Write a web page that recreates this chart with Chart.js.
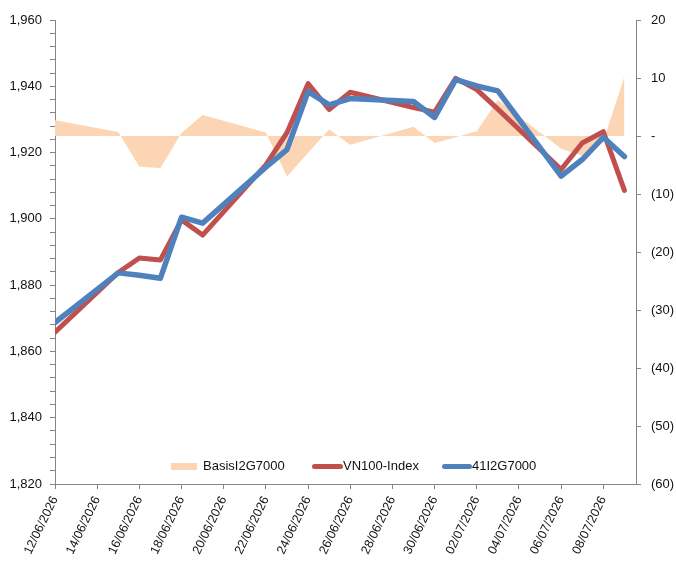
<!DOCTYPE html>
<html>
<head>
<meta charset="utf-8">
<script src="https://cdn.jsdelivr.net/npm/chart.js@4.4.1/dist/chart.umd.min.js"></script>
<style>
  html, body { margin: 0; padding: 0; background: #fff; }
  #wrap { position: relative; width: 676px; height: 566px; }
  #legend { position: absolute; left: 0; top: 458px; width: 676px; height: 16px;
            font: 13px "Liberation Sans", Arial, sans-serif; color: #111; }
  #legend .item { position: absolute; top: 0; height: 16px; line-height: 16px; white-space: nowrap; }
  #legend .mark { display: inline-block; vertical-align: middle; }
</style>
</head>
<body>
<div id="wrap">
  <canvas id="chart" width="676" height="566"></canvas>
  <div id="legend"></div>
</div>
<script>
"use strict";
// trading days shown on the chart
const dates = [
    '12/06/2026', '15/06/2026', '16/06/2026', '17/06/2026', '18/06/2026', '19/06/2026',
    '22/06/2026', '23/06/2026', '24/06/2026', '25/06/2026', '26/06/2026',
    '29/06/2026', '30/06/2026', '01/07/2026', '02/07/2026', '03/07/2026',
    '06/07/2026', '07/07/2026', '08/07/2026', '09/07/2026'
];
const vn100 = [
    1865.8, 1883.8, 1888.2, 1887.6, 1899.7, 1895.1,
    1916.3, 1926.0, 1940.8, 1933.0, 1938.2,
    1933.6, 1932.2, 1942.4, 1939.0, 1933.1,
    1914.9, 1922.9, 1926.3, 1908.6
];
const fut41 = [
    1868.7, 1883.7, 1883.0, 1882.1, 1900.5, 1898.7,
    1915.6, 1920.9, 1938.4, 1934.4, 1936.3,
    1935.4, 1930.6, 1942.0, 1940.1, 1938.6,
    1912.9, 1917.9, 1924.6, 1918.8
];
const basis = [
    2.7, 0.7, -5.3, -5.5, 0.5, 3.6,
    0.6, -7.0, -2.9, 1.1, -1.5,
    1.6, -1.2, -0.2, 0.8, 6.2,
    -2.2, -3.4, -0.9, 10.2
];
const seriesNames = ['BasisI2G7000', 'VN100-Index', '41I2G7000'];
const leftTicks = [1820, 1960, 20];   // min, max, label step
const rightTicks = [-60, 20, 10];

const DAY = 86400000;
function parseDate(s) {
    const p = s.split('/');
    return Date.UTC(+p[2], +p[1] - 1, +p[0]);
}
const start = parseDate(dates[0]);
const xs = dates.map(d => Math.round((parseDate(d) - start) / DAY));
function dayLabel(n) {
    const d = new Date(start + n * DAY);
    const dd = String(d.getUTCDate()).padStart(2, '0');
    const mm = String(d.getUTCMonth() + 1).padStart(2, '0');
    return dd + '/' + mm + '/' + d.getUTCFullYear();
}
const toPoints = arr => arr.map((v, i) => ({ x: xs[i], y: v }));

const RED = '#C0504D';
const BLUE = '#4F81BD';
const PEACH = '#FCD5B4';
const AXIS = '#868686';

Chart.defaults.font.family = '"Liberation Sans", Arial, sans-serif';
Chart.defaults.color = '#111';

new Chart(document.getElementById('chart'), {
    type: 'line',
    data: {
        datasets: [
            {
                label: seriesNames[0], data: toPoints(basis), yAxisID: 'y1',
                fill: 'origin', backgroundColor: PEACH, borderWidth: 0,
                pointRadius: 0, order: 3
            },
            {
                label: seriesNames[1], data: toPoints(vn100), yAxisID: 'y',
                borderColor: RED, borderWidth: 5, pointRadius: 0,
                borderJoinStyle: 'round', borderCapStyle: 'round', order: 2
            },
            {
                label: seriesNames[2], data: toPoints(fut41), yAxisID: 'y',
                borderColor: BLUE, borderWidth: 5.5, pointRadius: 0,
                borderJoinStyle: 'round', borderCapStyle: 'round', order: 1
            }
        ]
    },
    options: {
        responsive: false,
        animation: false,
        devicePixelRatio: 1,
        layout: { padding: { top: 20, left: 0, right: 0, bottom: 0 } },
        plugins: { legend: { display: false }, tooltip: { enabled: false } },
        scales: {
            x: {
                type: 'linear',
                min: 0,
                max: xs[xs.length - 1] + 0.55,
                border: { display: true, color: AXIS, width: 1 },
                grid: { display: true, drawOnChartArea: false, drawTicks: true, tickLength: 5, color: AXIS },
                ticks: {
                    stepSize: 2, includeBounds: false, autoSkip: false,
                    maxRotation: 64, minRotation: 64, padding: 5,
                    font: { size: 12.5 },
                    callback: v => dayLabel(v)
                },
                afterFit: s => { s.height = 82; }
            },
            y: {
                position: 'left',
                min: leftTicks[0], max: leftTicks[1],
                border: { display: true, color: AXIS, width: 1 },
                grid: { display: true, drawOnChartArea: false, drawTicks: true, tickLength: 5, color: AXIS },
                ticks: {
                    stepSize: leftTicks[2] / 5, padding: 8, font: { size: 13 },
                    autoSkip: false,
                    callback: v => (v % leftTicks[2] === 0 ? v.toLocaleString('en-US') : '')
                },
                afterFit: s => { s.width = 55; }
            },
            y1: {
                position: 'right',
                min: rightTicks[0], max: rightTicks[1],
                border: { display: true, color: AXIS, width: 1 },
                grid: { display: true, drawOnChartArea: false, drawTicks: true, tickLength: 5, color: AXIS },
                ticks: {
                    stepSize: rightTicks[2], padding: 10, font: { size: 13 },
                    autoSkip: false,
                    callback: v => (v === 0 ? '-' : v < 0 ? '(' + Math.abs(v) + ')' : String(v))
                },
                afterFit: s => { s.width = 40; }
            }
        }
    }
});

// legend drawn as html over the plot area
const legend = document.getElementById('legend');
const legendItems = [
    { left: 171, mark: 'width:26px;height:7px;background:' + PEACH, gap: 6 },
    { left: 312, mark: 'width:31px;height:5px;border-radius:3px;background:' + RED, gap: 0 },
    { left: 442, mark: 'width:30px;height:5px;border-radius:3px;background:' + BLUE, gap: 0 }
];
legendItems.forEach((it, i) => {
    const el = document.createElement('div');
    el.className = 'item';
    el.style.left = it.left + 'px';
    el.innerHTML = '<span class="mark" style="' + it.mark + ';margin-right:' + it.gap + 'px"></span>';
    el.appendChild(document.createTextNode(seriesNames[i]));
    legend.appendChild(el);
});
</script>
</body>
</html>
